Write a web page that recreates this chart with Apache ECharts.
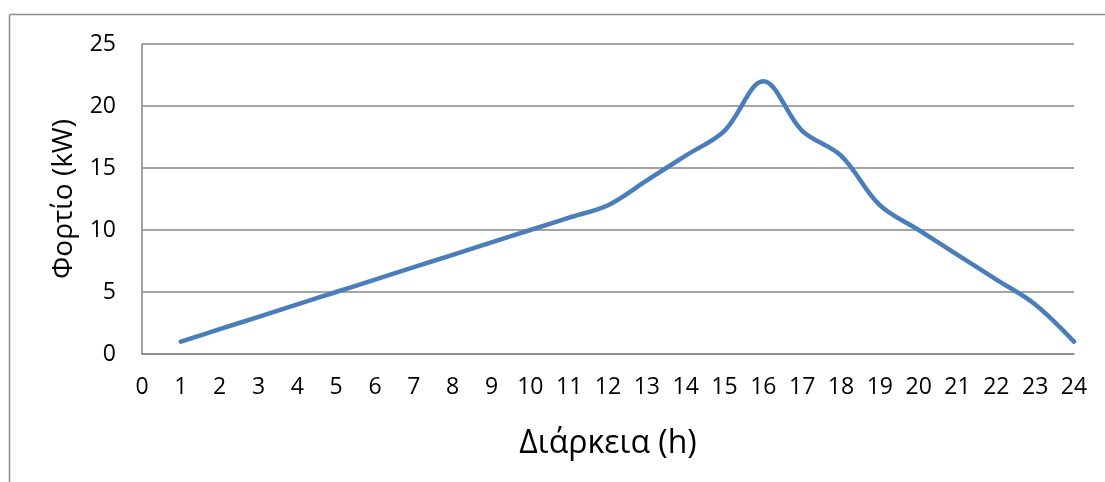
<!DOCTYPE html>
<html>
<head>
<meta charset="utf-8">
<script src="https://cdn.jsdelivr.net/npm/echarts@6/dist/echarts.min.js"></script>
<style>
  html, body { margin: 0; padding: 0; background: #fff; }
  #chart { width: 1105px; height: 482px; }
</style>
</head>
<body>
<div id="chart"></div>
<script>
// Hourly load profile: hour of the day and load in kW
const hours = [1, 2, 3, 4, 5, 6, 7, 8, 9, 10, 11, 12, 13, 14, 15, 16, 17, 18, 19, 20, 21, 22, 23, 24];
const loadKW = [1, 2, 3, 4, 5, 6, 7, 8, 9, 10, 11, 12, 14, 16, 18, 22, 18, 16, 12, 10, 8, 6, 4, 1];
const xAxisTitle = 'Διάρκεια (h)';
const yAxisTitle = 'Φορτίο (kW)';

const FONT = '"Open Sans", "DejaVu Sans", sans-serif';
const points = hours.map((h, i) => [h, loadKW[i]]);

const chart = echarts.init(document.getElementById('chart'), null, { renderer: 'canvas' });
chart.setOption({
  animation: false,
  backgroundColor: '#ffffff',
  graphic: [
    // outer chart frame (top and left edges)
    { type: 'line', shape: { x1: 9.5, y1: 14.5, x2: 1105, y2: 14.5 }, style: { stroke: '#8c8c8c', lineWidth: 1.5 } },
    { type: 'line', shape: { x1: 9.5, y1: 14.5, x2: 9.5, y2: 482 }, style: { stroke: '#8c8c8c', lineWidth: 1.5 } }
  ],
  grid: { left: 142, right: 31, top: 44, bottom: 128, containLabel: false },
  xAxis: {
    type: 'value',
    min: 0, max: 24, interval: 1,
    name: xAxisTitle,
    nameLocation: 'middle',
    nameGap: 74,
    nameTextStyle: { fontFamily: FONT, fontSize: 32, color: '#000' },
    axisLine: { show: true, lineStyle: { color: '#868686', width: 1.5 } },
    axisTick: { show: false },
    splitLine: { show: false },
    axisLabel: { fontFamily: FONT, fontSize: 23, color: '#000', margin: 22 }
  },
  yAxis: {
    type: 'value',
    min: 0, max: 25, interval: 5,
    name: yAxisTitle,
    nameLocation: 'middle',
    nameGap: 64,
    nameRotate: 90,
    nameTextStyle: { fontFamily: FONT, fontSize: 28, color: '#000' },
    axisLine: { show: true, lineStyle: { color: '#868686', width: 1.5 } },
    axisTick: { show: false },
    splitLine: { show: true, lineStyle: { color: '#868686', width: 1.5 } },
    axisLabel: { fontFamily: FONT, fontSize: 23, color: '#000', margin: 26 }
  },
  series: [{
    type: 'line',
    data: points,
    smooth: 0.35,
    symbol: 'none',
    lineStyle: { color: '#4a7ebb', width: 4.5, cap: 'round', join: 'round' }
  }]
});
</script>
</body>
</html>
